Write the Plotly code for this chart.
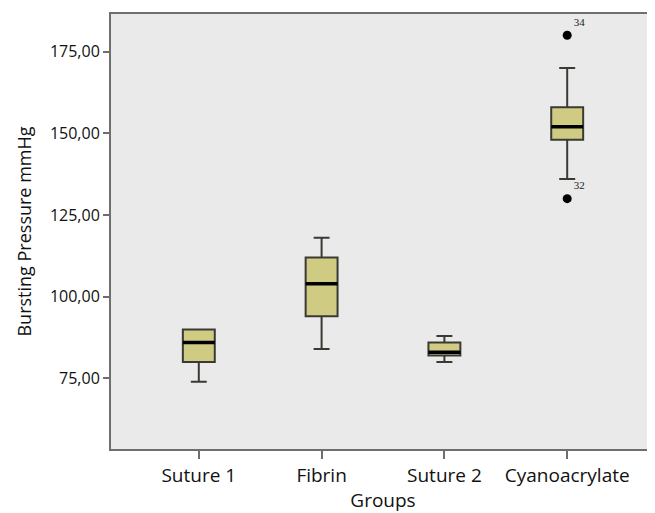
import plotly.graph_objects as go

groups = ["Suture 1", "Fibrin", "Suture 2", "Cyanoacrylate"]
lower_whisker = [74, 84, 80, 136]
q1 = [80, 94, 82, 148]
median = [86, 104, 83, 152]
q3 = [90, 112, 86, 158]
upper_whisker = [90, 118, 88, 170]

outlier_group = ["Cyanoacrylate", "Cyanoacrylate"]
outlier_value = [180, 130]
outlier_label = ["34", "32"]

tick_vals = [75, 100, 125, 150, 175]
tick_text = ["75,00", "100,00", "125,00", "150,00", "175,00"]

FONT = "Open Sans"
BOX_W = 0.26

fig = go.Figure()
fig.add_trace(go.Box(
    x=groups, q1=q1, median=median, q3=q3,
    lowerfence=lower_whisker, upperfence=upper_whisker,
    fillcolor="#D0CB83",
    line=dict(color="#3a3a35", width=2),
    width=BOX_W, whiskerwidth=0.5,
    boxpoints=False, showlegend=False, hoverinfo="skip",
))
fig.add_trace(go.Scatter(
    x=outlier_group, y=outlier_value, text=outlier_label,
    mode="markers+text", textposition="top right",
    marker=dict(color="black", size=9),
    textfont=dict(family="Liberation Sans Narrow", size=11, color="#222"),
    showlegend=False, hoverinfo="skip",
))

for i, m in enumerate(median):
    fig.add_shape(type="line", xref="x", yref="y",
                  x0=i - BOX_W / 2, x1=i + BOX_W / 2, y0=m, y1=m,
                  line=dict(color="black", width=3.5))

# page body has an 8px margin: figure sized to fill the remaining window
fig.update_layout(
    width=647, height=505,
    margin=dict(l=103, r=0, t=6, b=64),
    paper_bgcolor="white", plot_bgcolor="#EAEAEA",
    font=dict(family=FONT, color="#111"),
)
fig.update_xaxes(
    range=[-0.715, 3.715], showgrid=False, zeroline=False,
    showline=True, linecolor="#6e6e6e", linewidth=2, mirror=True,
    ticks="outside", ticklen=8, tickwidth=2, tickcolor="#6e6e6e",
    tickfont=dict(family=FONT, size=19, color="#111"),
    title=dict(text="Groups", font=dict(family=FONT, size=19, color="#111"), standoff=9),
)
fig.update_yaxes(
    range=[53.4, 186.5], showgrid=False, zeroline=False,
    showline=True, linecolor="#6e6e6e", linewidth=2,
    ticks="outside", ticklen=6, tickwidth=2, tickcolor="#6e6e6e",
    tickvals=tick_vals, ticktext=tick_text,
    tickfont=dict(family=FONT, size=16, color="#111"),
    title=dict(text="Bursting Pressure mmHg", font=dict(family=FONT, size=18, color="#111"), standoff=14),
)

fig.write_html("out.html")
